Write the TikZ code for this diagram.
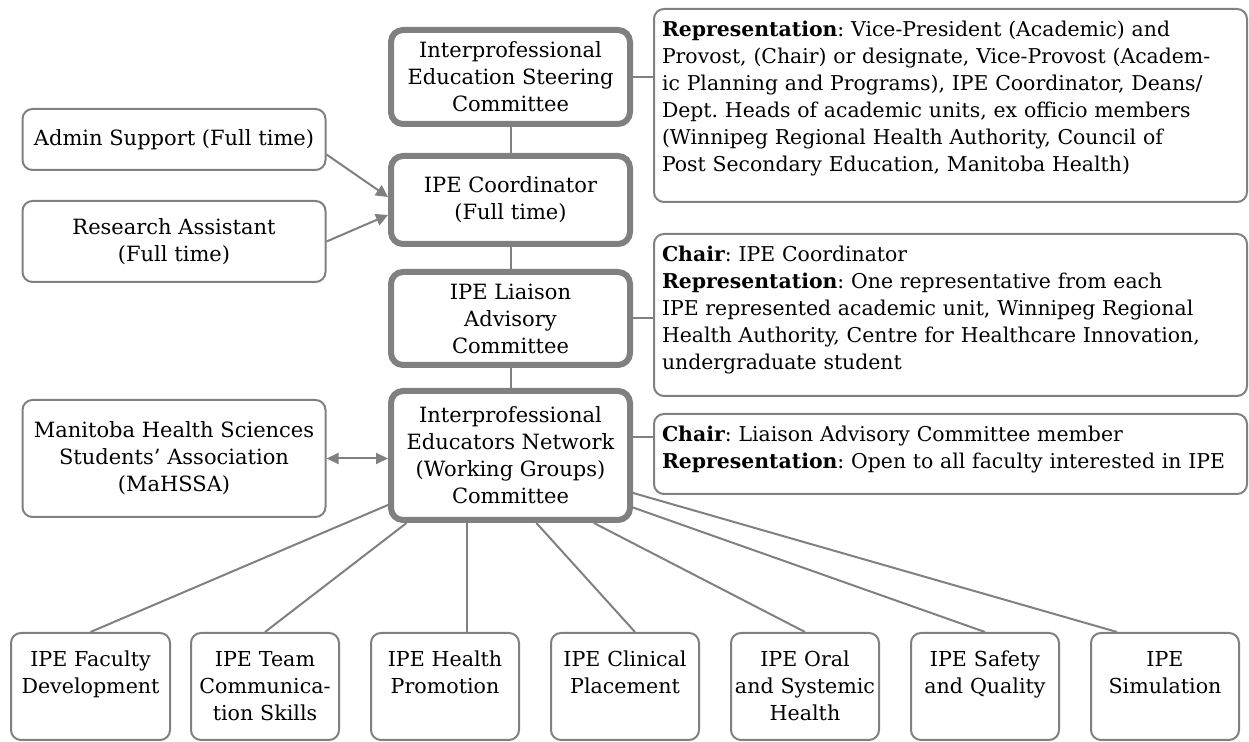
\documentclass[tikz,border=0pt]{standalone}
\usepackage{fontspec}
\setmainfont{DejaVu Serif}
\usepackage{xcolor}
\usetikzlibrary{arrows.meta, positioning}
\frenchspacing
\definecolor{linegray}{RGB}{128,128,128}
\tikzset{
  mainbox/.style={rectangle, rounded corners=6pt, draw=linegray, line width=3pt,
                  fill=white, align=center, minimum width=119.5pt},
  sidebox/.style={rectangle, rounded corners=5pt, draw=linegray, line width=1pt,
                  fill=white, align=center, minimum width=151.5pt},
  repbox/.style={rectangle, rounded corners=5pt, draw=linegray, line width=1pt,
                 fill=white, align=left, text width=288.5pt, inner xsep=4pt,
                 inner ysep=6pt, text height=8pt, anchor=north west,
                 font=\fontsize{10.2}{13.5}\selectfont},
  groupbox/.style={rectangle, rounded corners=5pt, draw=linegray, line width=1pt,
                   fill=white, align=center, text width=72pt, inner xsep=1pt,
                   inner ysep=9pt, text height=8pt, text depth=27.5pt,
                   font=\fontsize{10.3}{13.5}\selectfont},
  link/.style={draw=linegray, line width=1pt},
  arrow/.style={link, -{Triangle[length=6pt, width=6pt]}},
  dblarrow/.style={link, {Triangle[length=6pt, width=5.5pt]}-{Triangle[length=6pt, width=5.5pt]}},
}
\begin{document}
\begin{tikzpicture}[x=0.5pt, y=-0.5pt, font=\fontsize{10.5}{13.5}\selectfont]
    \useasboundingbox (0,0) rectangle (1249,742);
    % committee column
    \node[mainbox, minimum height=47pt] (steer) at (510.5,77) {Interprofessional\\Education Steering\\Committee};
    \node[mainbox, minimum height=44pt] (coord) at (510.5,200) {IPE Coordinator\\(Full time)};
    \node[mainbox, minimum height=46.5pt] (liaison) at (510.5,318.5) {IPE Liaison\\Advisory\\Committee};
    \node[mainbox, minimum height=64.5pt] (net) at (510.5,455.5) {Interprofessional\\Educators Network\\(Working Groups)\\Committee};
    % support boxes
    \node[sidebox, minimum height=30.5pt] (admin) at (174,139.5) {Admin Support (Full time)};
    \node[sidebox, minimum height=40.5pt] (research) at (174,241.5) {Research Assistant\\(Full time)};
    \node[sidebox, minimum height=58.5pt] (mahssa) at (174,458.5) {Manitoba Health Sciences\\Students’ Association\\(MaHSSA)};
    % membership notes
    \node[repbox, text depth=76.5pt] (repsteer) at (653,8) {\textbf{Representation}: Vice-President (Academic) and\\
      Provost, (Chair) or designate, Vice-Provost (Academ-\\
      ic Planning and Programs), IPE Coordinator, Deans/\\
      Dept. Heads of academic units, ex officio members\\
      (Winnipeg Regional Health Authority, Council of\\
      Post Secondary Education, Manitoba Health)};
    \node[repbox, text depth=61pt] (repliaison) at (653,233) {\textbf{Chair}: IPE Coordinator\\
      \textbf{Representation}: One representative from each\\
      IPE represented academic unit, Winnipeg Regional\\
      Health Authority, Centre for Healthcare Innovation,\\
      undergraduate student};
    \node[repbox, text depth=20pt] (repnet) at (653,413) {\textbf{Chair}: Liaison Advisory Committee member\\
      \textbf{Representation}: Open to all faculty interested in IPE};
    % working groups
    \node[groupbox, text width=77.5pt, anchor=north west] (fd) at (10,632) {IPE Faculty\\Development};
    \node[groupbox, right=9.5pt of fd] (tcs) {IPE Team\\Communica-\\tion Skills};
    \node[groupbox, right=15pt of tcs] (hp) {IPE Health\\Promotion};
    \node[groupbox, right=15pt of hp] (cp) {IPE Clinical\\Placement};
    \node[groupbox, right=15pt of cp] (osh) {IPE Oral\\and Systemic\\Health};
    \node[groupbox, right=15pt of osh] (sq) {IPE Safety\\and Quality};
    \node[groupbox, right=15pt of sq] (sim) {IPE\\Simulation};
    % links
    \draw[link] (steer) -- (coord);
    \draw[link] (coord) -- (liaison);
    \draw[link] (liaison) -- (net);
    \draw[link] (steer.east) -- (steer.east -| repsteer.west);
    \draw[link] (liaison.east) -- (liaison.east -| repliaison.west);
    \draw[link] ([yshift=9pt]net.east) -- ([yshift=9pt]net.east -| repnet.west);
    \draw[arrow] ([yshift=-7.5pt]admin.east) -- ([yshift=1.5pt]coord.west);
    \draw[arrow] (research.east) -- ([yshift=-7.5pt]coord.west);
    \draw[dblarrow] (mahssa.east) -- (mahssa.east -| net.west);
    \draw[link] (net.202) -- (fd.north);
    \draw[link] (net.213) -- (tcs.north);
    \draw[link] (net.237) -- (net.237 |- hp.north);
    \draw[link] (net.291) -- ([xshift=5pt]cp.north);
    \draw[link] (net.321) -- (osh.north);
    \draw[link] (net.337) -- (sq.north);
    \draw[link] (net.343) -- ([xshift=-24pt]sim.north);
\end{tikzpicture}
\end{document}
